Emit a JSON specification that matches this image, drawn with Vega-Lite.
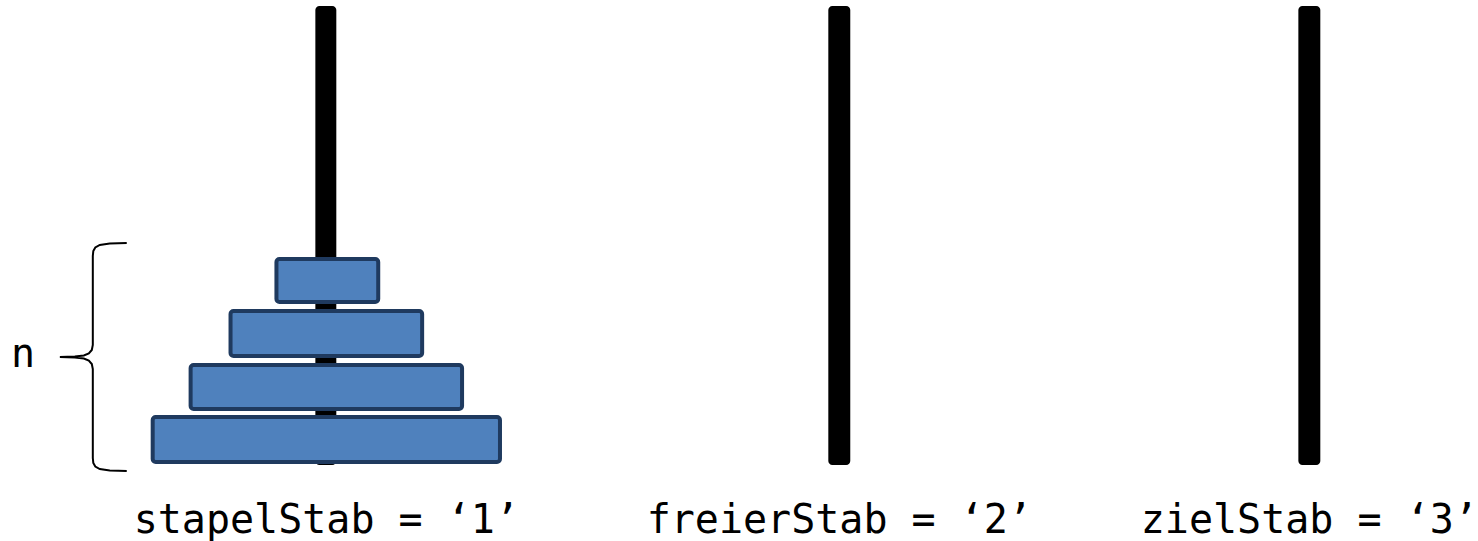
{
  "$schema": "https://vega.github.io/schema/vega-lite/v6.json",
  "width": 1478,
  "height": 541,
  "autosize": {"type": "fit", "contains": "padding"},
  "padding": 0,
  "background": "white",
  "config": {"view": {"stroke": null}},
  "datasets": {
    "poles": [
      {"pole": "1", "x": 316, "x2": 337, "y": 6, "y2": 465},
      {"pole": "2", "x": 830, "x2": 852, "y": 6, "y2": 465},
      {"pole": "3", "x": 1301, "x2": 1323, "y": 6, "y2": 465}
    ],
    "disks": [
      {"disk": 1, "x": 277, "x2": 379, "y": 259, "y2": 302},
      {"disk": 2, "x": 231, "x2": 423, "y": 311, "y2": 356},
      {"disk": 3, "x": 191, "x2": 463, "y": 365, "y2": 409},
      {"disk": 4, "x": 153, "x2": 501, "y": 417, "y2": 462}
    ],
    "labels": [
      {"label": "stapelStab = ‘1’", "x": 327, "y": 533},
      {"label": "freierStab = ‘2’", "x": 841, "y": 533},
      {"label": "zielStab = ‘3’", "x": 1312, "y": 533},
      {"label": "n", "x": 23, "y": 367}
    ],
    "brace": [
      {"o": 1, "x": 127, "y": 243},
      {"o": 2, "x": 110, "y": 243.5},
      {"o": 3, "x": 100, "y": 245},
      {"o": 4, "x": 95.5, "y": 247.5},
      {"o": 5, "x": 93.5, "y": 251},
      {"o": 6, "x": 93, "y": 256},
      {"o": 7, "x": 93, "y": 345},
      {"o": 8, "x": 92, "y": 350},
      {"o": 9, "x": 89, "y": 353.5},
      {"o": 10, "x": 84, "y": 355.5},
      {"o": 11, "x": 75, "y": 356.5},
      {"o": 12, "x": 60, "y": 357},
      {"o": 13, "x": 75, "y": 357.5},
      {"o": 14, "x": 84, "y": 358.5},
      {"o": 15, "x": 89, "y": 360.5},
      {"o": 16, "x": 92, "y": 364},
      {"o": 17, "x": 93, "y": 369},
      {"o": 18, "x": 93, "y": 458},
      {"o": 19, "x": 93.5, "y": 463},
      {"o": 20, "x": 95.5, "y": 466.5},
      {"o": 21, "x": 100, "y": 469},
      {"o": 22, "x": 110, "y": 470.5},
      {"o": 23, "x": 127, "y": 471}
    ]
  },
  "encoding": {
    "x": {"field": "x", "type": "quantitative", "axis": null, "scale": {"domain": [0, 1478], "nice": false, "zero": false}},
    "y": {"field": "y", "type": "quantitative", "axis": null, "scale": {"domain": [0, 541], "nice": false, "zero": false, "reverse": true}}
  },
  "layer": [
    {
      "data": {"name": "poles"},
      "mark": {"type": "rect", "color": "black", "cornerRadius": 4},
      "encoding": {"x2": {"field": "x2"}, "y2": {"field": "y2"}}
    },
    {
      "data": {"name": "disks"},
      "mark": {"type": "rect", "fill": "#4f81bd", "fillOpacity": 1, "stroke": "#1f3a5f", "strokeWidth": 4, "cornerRadius": 3},
      "encoding": {"x2": {"field": "x2"}, "y2": {"field": "y2"}}
    },
    {
      "data": {"name": "brace"},
      "mark": {"type": "line", "color": "black", "strokeWidth": 2},
      "encoding": {"order": {"field": "o", "type": "quantitative"}}
    },
    {
      "data": {"name": "labels"},
      "mark": {"type": "text", "font": "DejaVu Sans Mono", "fontSize": 40, "align": "center", "baseline": "alphabetic", "color": "black"},
      "encoding": {"text": {"field": "label"}}
    }
  ]
}
